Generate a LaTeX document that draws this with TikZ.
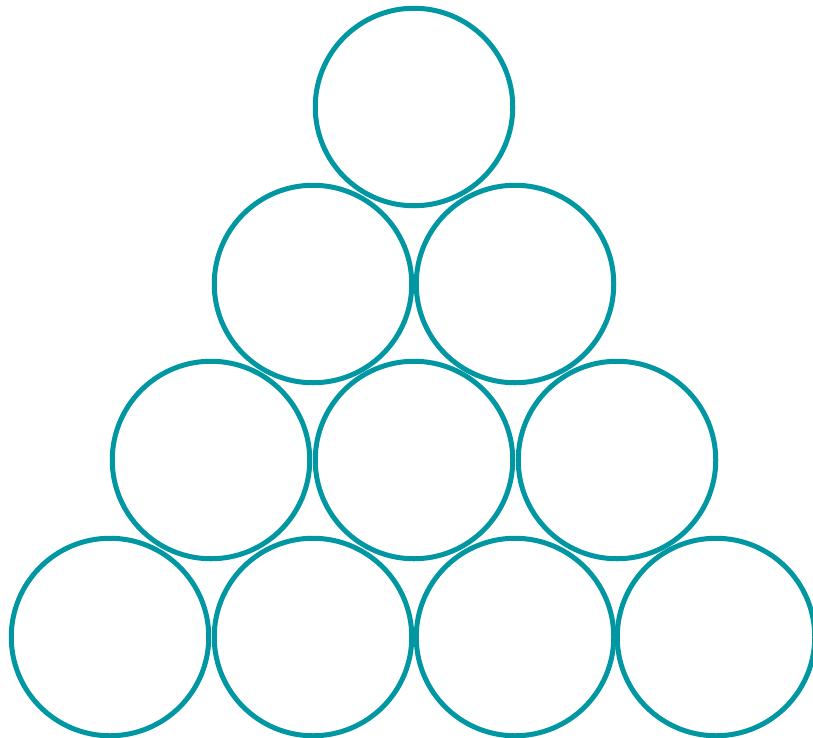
\documentclass[tikz,border=0pt]{standalone}
\begin{document}
\begin{tikzpicture}[x=1pt,y=-1pt,
  ball/.style={circle,draw=ballcol,line width=5pt,minimum size=197.5pt,inner sep=0pt}]
\definecolor{ballcol}{HTML}{0097A3}
\useasboundingbox (0,0) rectangle (813,737);
\node[ball] (a1) at (414,107) {};
\node[ball] (b1) at (313,284) {};
\node[ball] (b2) at (515,284) {};
\node[ball] (c1) at (211,460) {};
\node[ball] (c2) at (414,460) {};
\node[ball] (c3) at (617,460) {};
\node[ball] (d1) at (110,637) {};
\node[ball] (d2) at (313,637) {};
\node[ball] (d3) at (515,637) {};
\node[ball] (d4) at (716,637) {};
\end{tikzpicture}
\end{document}
